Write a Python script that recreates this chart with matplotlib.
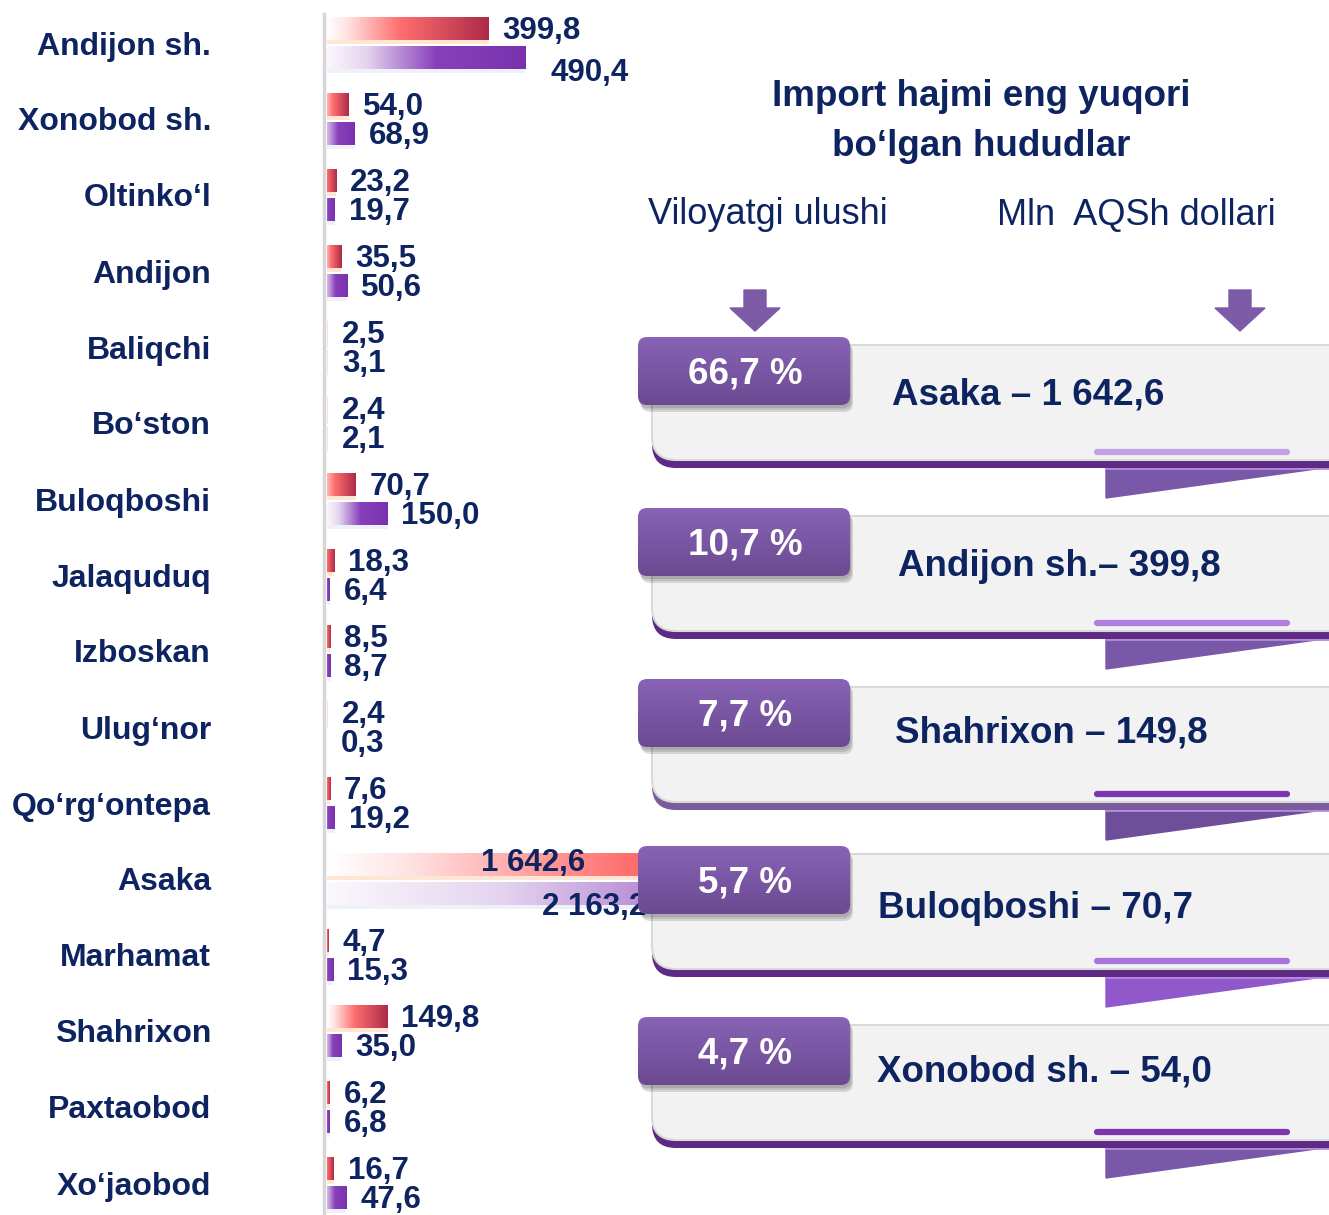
import numpy as np
import matplotlib
matplotlib.use("Agg")
import matplotlib.pyplot as plt
from matplotlib.patches import FancyBboxPatch, Polygon
from matplotlib.colors import LinearSegmentedColormap

plt.rcParams['font.family'] = ['Liberation Sans', 'DejaVu Sans']

# bar chart data (mln USD)
regions = ["Andijon sh.", "Xonobod sh.", "Oltinko‘l", "Andijon", "Baliqchi", "Bo‘ston",
           "Buloqboshi", "Jalaquduq", "Izboskan", "Ulug‘nor", "Qo‘rg‘ontepa", "Asaka",
           "Marhamat", "Shahrixon", "Paxtaobod", "Xo‘jaobod"]
import_red = [399.8, 54.0, 23.2, 35.5, 2.5, 2.4, 70.7, 18.3, 8.5, 2.4, 7.6, 1642.6,
              4.7, 149.8, 6.2, 16.7]
import_purple = [490.4, 68.9, 19.7, 50.6, 3.1, 2.1, 150.0, 6.4, 8.7, 0.3, 19.2, 2163.2,
                 15.3, 35.0, 6.8, 47.6]

# right side panel data
title_lines = ["Import hajmi eng yuqori", "bo‘lgan hududlar"]
col_headers = ["Viloyatgi ulushi", "Mln  AQSh dollari"]
top_regions = ["Asaka", "Andijon sh.", "Shahrixon", "Buloqboshi", "Xonobod sh."]
top_seps = [" – ", "– ", " – ", " – ", " – "]
top_values = [1642.6, 399.8, 149.8, 70.7, 54.0]
top_shares = [66.7, 10.7, 7.7, 5.7, 4.7]

NAVY = "#0E2460"
W, H = 1329, 1215


def fmt(v):
    return f"{v:,.1f}".replace(",", " ").replace(".", ",")


red_cmap = LinearSegmentedColormap.from_list(
    "red", [(0, "#FFFFFF"), (0.12, "#FFE3E3"), (0.45, "#FF6F6F"), (1, "#AD2A48")])
purple_cmap = LinearSegmentedColormap.from_list(
    "purple", [(0, "#FBF8FD"), (0.2, "#E4D3EF"), (0.55, "#8840BA"), (1, "#7932AE")])
tab_cmap = LinearSegmentedColormap.from_list("tab", ["#8863B6", "#6B4A91"])

fig = plt.figure(figsize=(W / 100, H / 100), dpi=100)

# ---------------- bar chart ----------------
x0 = 327
px_per_unit = 0.404
ax = fig.add_axes([x0 / W, 0, 1 - x0 / W, 1], zorder=1)
ax.spines["left"].set_position(("outward", 2.5))  # before ticks, it resets them
ax.set_xlim(0, (W - x0) / px_per_unit)
ax.set_ylim((H - 43) / 76, -43 / 76)

y = np.arange(len(regions))
bh = 0.30
off = 0.19

# soft glow under the bars
ax.barh(y - off + 0.05, import_red, height=bh, color="#FDE6D4", zorder=1)
ax.barh(y + off + 0.05, import_purple, height=bh, color="#EEF2F8", zorder=1)

red_bars = ax.barh(y - off, import_red, height=bh, color="none", zorder=2)
purple_bars = ax.barh(y + off, import_purple, height=bh, color="none", zorder=2)

for bars, cmap, faint in [(red_bars, red_cmap, "#FBDCD6"), (purple_bars, purple_cmap, "#ECE2F3")]:
    for p in bars:
        bx, by, bw, bhh = p.get_x(), p.get_y(), p.get_width(), p.get_height()
        px = bw * px_per_unit
        if px < 1.5:
            p.set_facecolor(faint)
            continue
        # short bars keep the saturated part of the gradient
        start = 0.45 if px < 12 else (0.25 if px < 40 else 0.0)
        grad = np.linspace(start, 1, 256).reshape(1, -1)
        im = ax.imshow(grad, cmap=cmap, vmin=0, vmax=1, extent=(bx, bx + bw, by + bhh, by),
                       aspect="auto", zorder=2, interpolation="bilinear")
        im.set_clip_path(p)

ax.set_xlim(0, (W - x0) / px_per_unit)
ax.set_ylim((H - 43) / 76, -43 / 76)

lab_kw = dict(fontsize=22.5, fontweight="bold", color=NAVY, va="center")
for i, name in enumerate(regions):
    if name == "Asaka":
        ax.annotate(fmt(import_red[i]), xy=(0, i - off), xytext=(186, 1),
                    textcoords="offset points", ha="right", **lab_kw)
        ax.annotate(fmt(import_purple[i]), xy=(0, i + off), xytext=(230, -10),
                    textcoords="offset points", ha="right", **lab_kw)
        continue
    ax.annotate(fmt(import_red[i]), xy=(import_red[i], i - off), xytext=(10, -1.5),
                textcoords="offset points", ha="left", **lab_kw)
    dx, dy = (18, -11) if name == "Andijon sh." else (10, -2)
    ax.annotate(fmt(import_purple[i]), xy=(import_purple[i], i + off), xytext=(dx, dy),
                textcoords="offset points", ha="left", **lab_kw)

ax.set_yticks(y)
ax.set_yticklabels(regions, fontsize=23, fontweight="bold", color=NAVY)
ax.tick_params(axis="y", length=0, pad=81)
ax.set_xticks([])
for s in ["top", "right", "bottom"]:
    ax.spines[s].set_visible(False)
ax.spines["left"].set_color("#D6D6D6")
ax.spines["left"].set_linewidth(2.5)
ax.spines["left"].set_bounds((H - 43) / 76, -0.38)
ax.set_facecolor("none")

# ---------------- right panel ----------------
ov = fig.add_axes([0, 0, 1, 1], zorder=2)
ov.set_xlim(0, W)
ov.set_ylim(H, 0)
ov.axis("off")
ov.set_facecolor("none")

ov.text(981, 96, title_lines[0], ha="center", va="center", fontsize=26.5,
        fontweight="bold", color=NAVY)
ov.text(981, 146, title_lines[1], ha="center", va="center", fontsize=26.5,
        fontweight="bold", color=NAVY)
ov.text(648, 215, col_headers[0], ha="left", va="center", fontsize=26, color=NAVY)
ov.text(997, 215, col_headers[1], ha="left", va="center", fontsize=26, color=NAVY)

# arrows
for ax_x in [755, 1240]:
    pts = [(ax_x - 11, 290), (ax_x + 11, 290), (ax_x + 11, 308), (ax_x + 25, 308),
           (ax_x, 331), (ax_x - 25, 308), (ax_x - 11, 308)]
    ov.add_patch(Polygon(pts, closed=True, color="#7C5AA6", zorder=3))

tab_tops = [337, 508, 679, 846, 1017]
name_x = [892, 898, 895, 878, 877]
name_dy = [58, 59, 54, 63, 55]
strip_cols = ["#5E2A84", "#5E2A84", "#7A5C9C", "#5E2A84", "#5E2A84"]
line_cols = ["#C4A0E4", "#B07FE0", "#7B35B0", "#A874DE", "#7B35B0"]
fold_cols = ["#7A58A8", "#7A58A8", "#6E4E98", "#9158CC", "#7A58A8"]

vgrad = np.linspace(0, 1, 256).reshape(-1, 1)
for k, T in enumerate(tab_tops):
    # fold under the card
    ov.add_patch(Polygon([(1106, T + 128), (1345, T + 128), (1106, T + 161)],
                         closed=True, color=fold_cols[k], zorder=2))
    ov.plot([1106, 1345], [T + 131, T + 131], color="#B58AE0", lw=2, zorder=2.1)
    # purple bottom strip + gray body
    ov.add_patch(FancyBboxPatch((652, T + 15), 700, 116,
                                boxstyle="round,pad=0,rounding_size=24",
                                fc=strip_cols[k], ec="none", zorder=3))
    ov.add_patch(FancyBboxPatch((652, T + 8), 700, 115,
                                boxstyle="round,pad=0,rounding_size=24",
                                fc="#F2F2F2", ec="#D9D9D9", lw=1.5, zorder=4))
    ov.plot([1097, 1287], [T + 115, T + 115], color=line_cols[k], lw=4.5,
            solid_capstyle="round", zorder=5)
    # tab shadow
    for j, a in enumerate([0.10, 0.10, 0.12]):
        ov.add_patch(FancyBboxPatch((638 + 1 + j, T + 3 + 2 * j), 212, 68,
                                    boxstyle="round,pad=0,rounding_size=9",
                                    fc="#000000", ec="none", alpha=a, zorder=5))
    tab = FancyBboxPatch((638, T), 212, 68, boxstyle="round,pad=0,rounding_size=9",
                         fc="none", ec="none", zorder=6)
    ov.add_patch(tab)
    im = ov.imshow(vgrad, cmap=tab_cmap, extent=(638, 850, T + 68, T), aspect="auto",
                   zorder=6)
    im.set_clip_path(tab)
    ov.text(745, T + 37, f"{top_shares[k]:.1f} %".replace(".", ","), ha="center",
            va="center", fontsize=26.5, fontweight="bold", color="white", zorder=7)
    ov.text(name_x[k], T + name_dy[k], top_regions[k] + top_seps[k] + fmt(top_values[k]),
            ha="left", va="center", fontsize=26.5, fontweight="bold", color=NAVY,
            zorder=7)

ov.set_xlim(0, W)
ov.set_ylim(H, 0)

fig.savefig("out.png", dpi=100)
